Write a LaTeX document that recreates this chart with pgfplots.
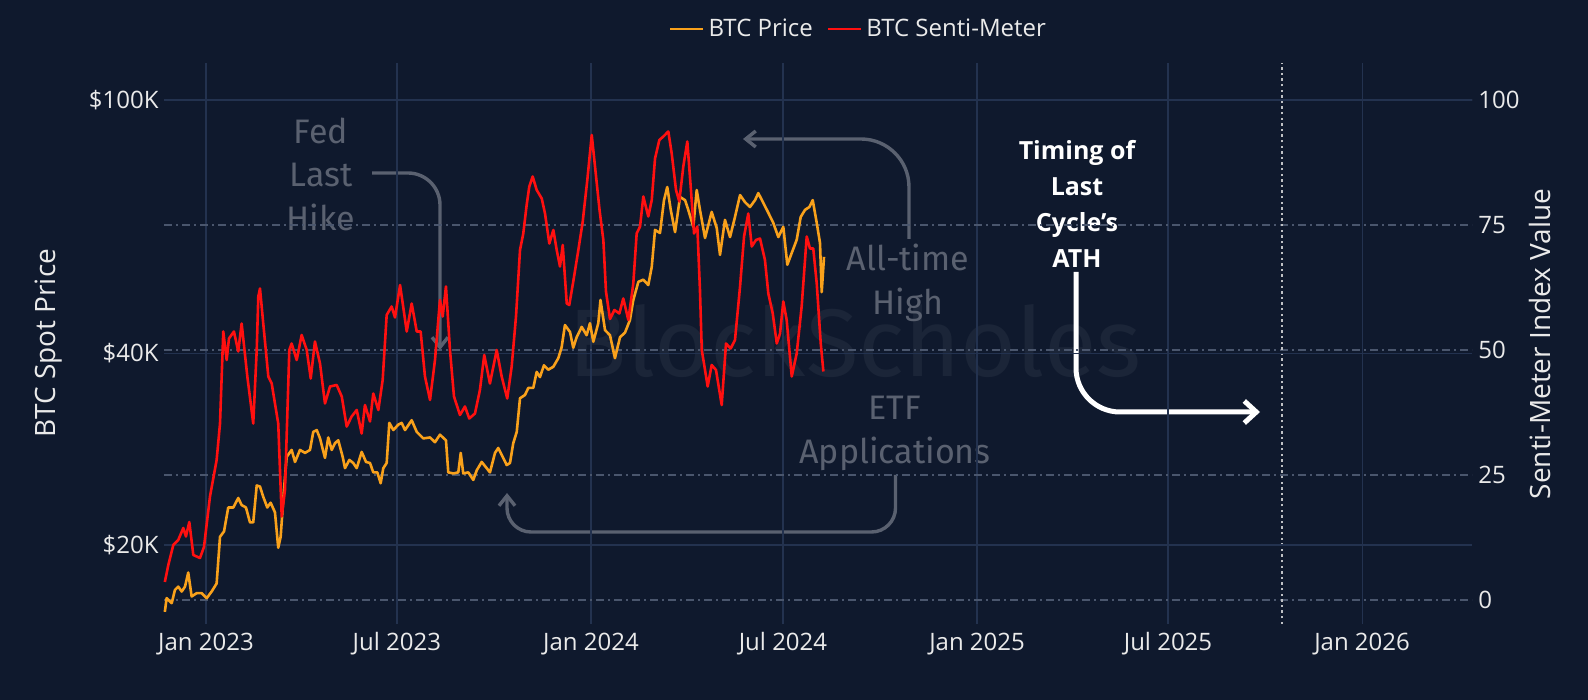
\documentclass[border=0pt]{standalone}
\usepackage{fontspec}
\setmainfont{Open Sans}
\newfontfamily\annofont{Fira Sans}
\usepackage{pgfplots}
\pgfplotsset{compat=1.18}
\usetikzlibrary{arrows.meta}
\definecolor{bg}{HTML}{0F192D}
\definecolor{vgrid}{HTML}{23324F}
\definecolor{dashbright}{HTML}{7A8294}
\definecolor{dashdim}{HTML}{4A566D}
\definecolor{lbl}{HTML}{EAEAEA}
\definecolor{anno}{HTML}{5A6170}
\definecolor{wm}{HTML}{1B2538}
\definecolor{btcorange}{HTML}{F9A11B}
\definecolor{sentired}{HTML}{FF1010}
\begin{document}
\begin{tikzpicture}
\useasboundingbox (0,0) rectangle (794bp,350bp);
\fill[bg] (0,0) rectangle (794bp,350bp);
% watermark
\node[anchor=base, text=wm, inner sep=0pt, font=\annofont\fontsize{48bp}{50bp}\selectfont] at (427.5bp,161.5bp) {BlockScholes};
% grey annotations
\node[text=anno, align=center, font=\annofont\fontsize{17bp}{21.75bp}\selectfont] at (160.5bp,263bp) {Fed\\Last\\Hike};
\draw[anno, line width=1.7bp, rounded corners=16bp, -{Straight Barb[length=5bp,width=8bp]}] (186bp,263.5bp) -- (220bp,263.5bp) -- (220bp,175bp);
\node[text=anno, align=center, font=\annofont\fontsize{17bp}{22bp}\selectfont] at (454bp,208.5bp) {All-time\\High};
\draw[anno, line width=1.7bp, rounded corners=24bp, -{Straight Barb[length=5bp,width=8bp]}] (454.5bp,230.5bp) -- (454.5bp,280.5bp) -- (371.5bp,280.5bp);
\node[text=anno, align=center, font=\annofont\fontsize{17bp}{22bp}\selectfont] at (447.5bp,133.5bp) {ETF\\Applications};
\draw[anno, line width=1.7bp, rounded corners=12bp, -{Straight Barb[length=5bp,width=8bp]}] (447.75bp,112.5bp) -- (447.75bp,84bp) -- (253.5bp,84bp) -- (253.5bp,103.5bp);
% white annotation
\node[text=white, align=center, font=\bfseries\fontsize{12.5bp}{18bp}\selectfont] at (538.5bp,248bp) {Timing of\\Last\\Cycle’s\\ATH};
\draw[white, line width=2.5bp, rounded corners=22bp, -{Straight Barb[length=6bp,width=11bp]}] (538bp,214bp) -- (538bp,144bp) -- (630bp,144bp);
% axis titles
\node[rotate=90, text=lbl, font=\fontsize{14bp}{16bp}\selectfont] at (24.5bp,178.5bp) {BTC Spot Price};
\node[rotate=90, text=lbl, font=\fontsize{14bp}{16bp}\selectfont] at (770bp,178bp) {Senti-Meter Index Value};
\pgfplotsset{common/.style={at={(82bp,38bp)}, anchor=south west, width=654bp, height=280.5bp, scale only axis, xmin=-39.8, xmax=1200.2, axis line style={draw=none}, tick style={draw=none}, major tick length=0pt, minor tick length=0pt, clip=false}}
% axis A: senti scale grids and labels
\begin{axis}[common, ymin=-4.8, ymax=107.4,
  xtick={0,181,365,547,731,912,1096},
  xticklabels={Jan 2023,Jul 2023,Jan 2024,Jul 2024,Jan 2025,Jul 2025,Jan 2026},
  xmajorgrids, major x grid style={vgrid, line width=0.6bp},
  xticklabel style={anchor=center, yshift=-10bp, inner sep=0pt, text=lbl, font=\fontsize{12bp}{14bp}\selectfont},
  ytick={25,75}, yticklabels={25,75},
  extra y ticks={0,50,100}, extra y tick labels={0,50,100},
  ymajorgrids,
  major y grid style={dashdim, line width=0.7bp, dash pattern=on 4bp off 2bp on 1bp off 2bp},
  extra y tick style={grid=major, major grid style={dashbright, line width=0.9bp, dash pattern=on 4bp off 2bp on 1bp off 2bp}},
  yticklabel pos=right,
  yticklabel style={anchor=west, xshift=3bp, inner sep=0pt, text=lbl, font=\fontsize{12bp}{14bp}\selectfont},
]
\draw[lbl!80!bg, line width=0.6bp, dash pattern=on 1.2bp off 1.6bp] (axis cs:1020,-4.8) -- (axis cs:1020,107.4);
\end{axis}
% axis B: BTC price, log scale
\begin{axis}[common, ymode=log, ymin=15028, ymax=114310,
  xtick=\empty,
  ytick={20000,40000,100000}, yticklabels={\$20K,\$40K,\$100K},
  minor ytick={},
  ymajorgrids, major y grid style={vgrid, line width=0.6bp},
  yticklabel style={anchor=east, xshift=-2.5bp, inner sep=0pt, text=lbl, font=\fontsize{12bp}{14bp}\selectfont},
]
\addplot[btcorange, line width=1.3bp, line join=round, mark=none] coordinates {
(-39,15700) (-37.3,16500) (-32.5,16200) (-29.4,17000) (-26.3,17200) (-23,16900) (-19.9,17200) (-16.8,18100) (-13.6,16600) (-8.8,16800) (-4.1,16800) (0.7,16500) (5.4,16900) (10.1,17400) (13.3,20600) (17.1,21000) (21.1,22900) (25.9,22900) (30.6,23700) (33.8,23100) (37.9,22900) (41.7,21700) (44.8,21700) (48.1,24800) (51.2,24700) (54.3,23800) (58.1,22900) (61.3,23300) (65.4,22500) (68.5,19800) (70.8,20600) (73.9,24400) (76.5,27500) (81.2,28200) (84.4,27000) (89.1,28200) (93.9,27900) (98.6,28200) (101.7,30100) (105,30300) (108.1,29400) (112.8,27400) (115.9,29500) (119.2,28200) (122.3,28900) (125.4,29200) (129.6,27500) (131.8,26400) (135.9,27200) (139.6,26900) (142.9,26400) (147.6,28000) (151.7,27000) (155.5,26900) (158.6,26000) (162.4,26000) (165.6,25000) (168.1,26400) (171.3,26900) (173.8,31100) (177.6,30300) (182.3,30900) (185.5,31100) (188.7,30300) (195,31400) (199.8,30100) (206,29400) (212.4,29500) (217.1,29000) (221.8,29800) (227.5,29200) (229.7,26000) (234.4,25900) (239.2,26000) (241.5,27900) (243.9,25900) (248.7,26000) (253.4,25300) (256.7,26200) (261.4,27000) (266.1,26400) (269.2,26000) (274,27900) (277.1,28400) (280.3,27700) (285.1,26700) (288.2,26900) (291.3,28900) (294.6,30100) (297.7,34000) (302.4,34400) (305.6,35300) (310.3,35300) (313.5,37400) (316.6,36700) (320.4,38300) (324.5,37700) (329.3,38100) (334,39300) (337.2,40900) (340.3,44300) (345.1,43200) (348.2,40800) (351.4,42400) (356.2,44000) (360.9,42700) (364,44600) (367.2,41700) (371.9,44600) (374,48500) (378.3,43500) (383,42700) (387.7,39300) (392.5,42400) (397.2,43100) (401.9,45100) (405.1,48500) (409.9,51800) (414.6,52200) (419.3,51200) (422.6,54700) (425.7,62500) (430.4,61800) (434.2,69600) (437.3,73000) (440.6,67200) (444.7,62000) (449.4,70400) (454.2,69600) (457.2,67200) (462,63200) (465.2,72200) (468.3,67200) (473.1,60700) (479.4,66700) (484.2,62900) (487.3,57100) (492,64800) (496.8,60900) (501.5,65500) (506.3,70900) (511,69100) (515.7,67900) (520.5,69600) (523.6,71400) (528.4,68900) (533.1,66500) (537.8,64100) (542.6,60900) (547.3,63200) (551.1,55100) (555.3,57500) (560,60300) (563.8,65500) (567.9,67200) (572,67900) (575.2,69600) (579,64100) (582.1,59600) (583.7,49900) (585.9,56700)
};
\end{axis}
% axis C: senti-meter line and legend
\begin{axis}[common, ymin=-4.8, ymax=107.4, hide axis,
  legend columns=2,
  legend style={at={(0.5317,1.0606)}, anchor=center, draw=none, fill=none, text=lbl, font=\fontsize{12bp}{14bp}\selectfont, /tikz/every even column/.append style={column sep=5bp}},
  legend image code/.code={\draw[#1] (0bp,0bp) -- (16.5bp,0bp);},
]
\addlegendimage{btcorange, line width=1.3bp}
\addlegendentry{BTC Price}
\addplot[sentired, line width=1.3bp, line join=round, mark=none] coordinates {
(-39,3.6) (-35.7,7) (-31,11) (-26.3,12) (-21.5,14.4) (-19,12.7) (-15.8,15.6) (-12,9) (-5.7,8.4) (-1.9,10.6) (3.8,20.7) (10.1,28) (13.3,35.3) (16.4,53.7) (19.6,48) (21.8,52.3) (26.5,53.7) (30.6,49.7) (33.8,55.3) (39.2,44.7) (44.8,35.3) (48.1,50) (49.6,60.7) (51.2,62.3) (54.3,55.3) (59.1,44.7) (62.3,43.3) (68.5,35.3) (71.8,16.7) (74.9,22) (79,50) (81.2,51.3) (86,48) (90.7,53) (95.5,50) (99.3,44.3) (103.3,51.7) (108.1,47.3) (112.8,39.3) (117.6,42.7) (123.9,43) (128.7,40.7) (133.4,34.7) (138.1,36.7) (142.9,38) (147.6,33.3) (150.7,39) (155.5,35.7) (158.6,41.3) (163.4,38) (167.5,44) (171.3,57) (176,58.7) (179.2,56.5) (184,63) (190.3,53.7) (195,59.3) (199.8,53.7) (203.5,53.7) (207.6,44.7) (212.4,40) (217.1,48) (221.8,60) (224.4,56.7) (227.5,62.7) (231.3,50) (235.1,40.7) (240.8,37) (245.5,38.7) (249.6,36.3) (255,37.3) (259.7,42) (263.8,49) (269.2,43.3) (275.6,50) (280.3,44.7) (285.6,40.3) (289.8,46.7) (293.9,56.7) (297.7,70) (300.8,73.3) (304,79) (306.5,82.7) (309.7,84.7) (313.5,82) (318.3,80.3) (321.4,77.3) (325.5,71.3) (329.3,74) (332.5,70) (335.6,66.7) (338.2,71) (342,59.3) (344.4,59) (348.2,63.7) (353,70) (357.1,75.6) (361.5,84) (365.7,93) (368.8,86.7) (373.2,77.8) (376.7,72) (379.2,61.7) (383,56.2) (387.2,58) (391.9,57.3) (395.6,60.3) (400.4,56) (405.1,63.3) (408.3,73.3) (411.5,74.7) (414.6,80.7) (419.3,76.7) (422.6,80) (425.7,88.3) (429.8,92) (433.6,92.7) (438.3,93.7) (441.5,89.3) (445.6,82) (448.7,79.7) (452.5,86.7) (456.3,91.7) (459.5,82.7) (462.7,73.3) (465.8,74.7) (468.3,62) (470,50) (472.1,47.3) (475.6,42.7) (479.4,47) (483.5,46) (488.9,39) (493,51.3) (497.4,50.3) (501.5,52) (506.3,62.7) (510.1,72.7) (514.1,77.3) (517.4,70.7) (521.4,72) (525.2,72.3) (529.9,68) (533.1,61.3) (537.3,57.3) (541.1,51.3) (544.2,53.3) (547.3,59.7) (550.5,56) (555.3,44.7) (560,49.3) (564.7,58.7) (569.5,72.7) (572.6,70.3) (575.7,70.3) (579,63.3) (582.8,51.3) (585.3,45.7)
};
\addlegendentry{BTC Senti-Meter}
\end{axis}
\end{tikzpicture}
\end{document}
